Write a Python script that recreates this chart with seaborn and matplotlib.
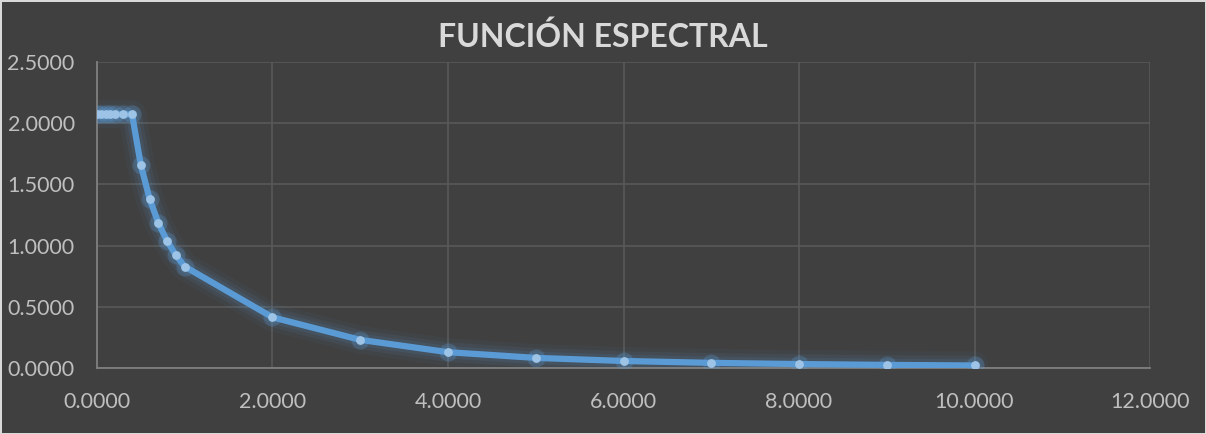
import matplotlib as mpl
import matplotlib.pyplot as plt
import numpy as np
import pandas as pd

import seaborn as sns

# periodo T (s) y aceleracion espectral Sa
periodos = [0.00, 0.05, 0.10, 0.15, 0.20, 0.30, 0.40, 0.50, 0.60, 0.70, 0.80,
            0.90, 1.00, 2.00, 3.00, 4.00, 5.00, 6.00, 7.00, 8.00, 9.00, 10.00]
sa = [2.0727, 2.0727, 2.0727, 2.0727, 2.0727, 2.0727, 2.0727, 1.6582, 1.3818,
      1.1844, 1.0364, 0.9212, 0.8291, 0.4145, 0.2303, 0.1295, 0.0829, 0.0576,
      0.0423, 0.0324, 0.0256, 0.0207]
xticks = [0, 2, 4, 6, 8, 10, 12]
yticks = [0.0, 0.5, 1.0, 1.5, 2.0, 2.5]
titulo = "FUNCIÓN ESPECTRAL"

BG = "#404040"
LINE = "#5b9bd5"
MARK = "#9dc3e6"
TXT = "#bfbfbf"

sns.set_style("dark")
plt.rcParams['font.family'] = ['Lato', 'DejaVu Sans']

df = pd.DataFrame({"T": periodos, "Sa": sa})

fig = plt.figure(figsize=(12.06, 4.34), dpi=100, facecolor=BG,
                 edgecolor="#d9d9d9", linewidth=2)
ax = fig.add_axes([0.0804, 0.152, 0.8732, 0.705])
ax.set_facecolor(BG)

# halo alrededor de la linea
for lw, a in [(20, 0.05), (14, 0.08), (9, 0.12)]:
    sns.lineplot(data=df, x="T", y="Sa", ax=ax, color=LINE, lw=lw, alpha=a,
                 sort=False, estimator=None, solid_capstyle="round", zorder=2)
sns.lineplot(data=df, x="T", y="Sa", ax=ax, color=LINE, lw=4.5,
             sort=False, estimator=None, zorder=3)
ax.scatter(df["T"], df["Sa"], s=170, color=LINE, alpha=0.25, lw=0, zorder=4)
ax.scatter(df["T"], df["Sa"], s=40, color=MARK, lw=0, zorder=5)

ax.set_xlim(0, 12)
ax.set_ylim(0, 2.5)
ax.set_xticks(xticks)
ax.set_yticks(yticks)
ax.set_xticklabels(["{:.4f}".format(v) for v in xticks])
ax.set_yticklabels(["{:.4f}".format(v) for v in yticks])
ax.tick_params(axis="both", colors=TXT, labelsize=15.5, length=0)
ax.tick_params(axis="x", pad=17)
ax.tick_params(axis="y", pad=16)
for t in ax.get_xticklabels() + ax.get_yticklabels():
    t.set_color(TXT)

ax.grid(True, color="#595959", lw=1.2)
ax.set_axisbelow(True)
for s in ["top", "right"]:
    ax.spines[s].set_visible(False)
for s in ["left", "bottom"]:
    ax.spines[s].set_color("#808080")
    ax.spines[s].set_linewidth(1.3)
ax.set_xlabel("")
ax.set_ylabel("")

fig.text(0.5, 0.915, titulo, ha="center", va="center", fontsize=23,
         fontweight="bold", color="#d9d9d9")

fig.savefig("out.png", dpi=100, facecolor=BG, edgecolor=fig.get_edgecolor())
